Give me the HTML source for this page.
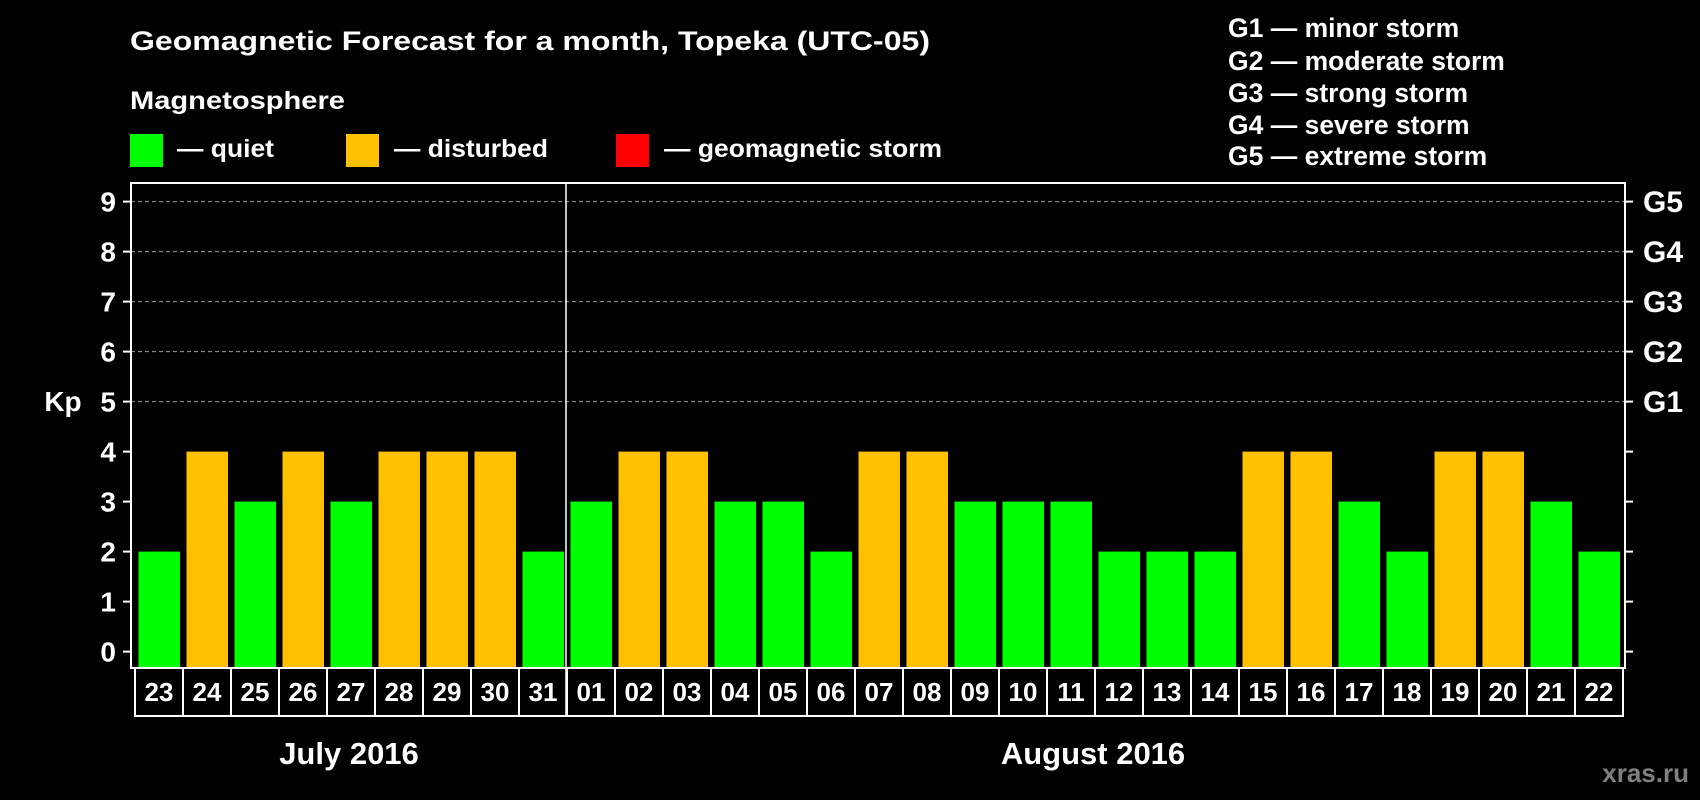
<!DOCTYPE html>
<html><head><meta charset="utf-8"><style>
html,body{margin:0;padding:0;background:#000;}
svg{display:block;font-family:"Liberation Sans",Arial,sans-serif;font-weight:bold;}
</style></head><body>
<svg id="chart" width="1700" height="800" viewBox="0 0 1700 800">
<rect x="0" y="0" width="1700" height="800" fill="#000"/>
<text x="130" y="50" fill="#fff" font-size="27" textLength="800" lengthAdjust="spacingAndGlyphs">Geomagnetic Forecast for a month, Topeka (UTC-05)</text>
<text x="130" y="109" fill="#fff" font-size="25" textLength="215" lengthAdjust="spacingAndGlyphs">Magnetosphere</text>
<g>
<rect x="130" y="134" width="33" height="33" fill="#00ff00"/>
<text x="177" y="157" fill="#fff" font-size="25" textLength="97" lengthAdjust="spacingAndGlyphs">— quiet</text></g>
<g>
<rect x="346" y="134" width="33" height="33" fill="#ffc000"/>
<text x="394" y="157" fill="#fff" font-size="25" textLength="154" lengthAdjust="spacingAndGlyphs">— disturbed</text></g>
<g>
<rect x="616" y="134" width="33" height="33" fill="#ff0000"/>
<text x="664" y="157" fill="#fff" font-size="25" textLength="278" lengthAdjust="spacingAndGlyphs">— geomagnetic storm</text></g>
<g fill="#fff" font-size="26.5">
<text x="1228" y="37">G1 — minor storm</text>
<text x="1228" y="70">G2 — moderate storm</text>
<text x="1228" y="102">G3 — strong storm</text>
<text x="1228" y="134">G4 — severe storm</text>
<text x="1228" y="165">G5 — extreme storm</text>
</g>
<g id="grid"></g>
<g id="bars"></g>
<rect x="131" y="183" width="1494" height="485" fill="none" stroke="#fff" stroke-width="2"/>
<line x1="566" y1="183" x2="566" y2="716" stroke="#fff" stroke-width="1.5"/>
<g id="axes"></g>
<text x="63" y="411" fill="#fff" font-size="28" text-anchor="middle">Kp</text>
<text x="349" y="764" fill="#fff" font-size="31" text-anchor="middle">July 2016</text>
<text x="1093" y="764" fill="#fff" font-size="31" text-anchor="middle">August 2016</text>
<text x="1689" y="782" fill="#808080" font-size="26" text-anchor="end">xras.ru</text>
</svg>
<script>
const days = ["23","24","25","26","27","28","29","30","31","01","02","03","04","05","06","07","08","09","10","11","12","13","14","15","16","17","18","19","20","21","22"];
const kpValues = [2,4,3,4,3,4,4,4,2,3,4,4,3,3,2,4,4,3,3,3,2,2,2,4,4,3,2,4,4,3,2];
const yTicks = [0,1,2,3,4,5,6,7,8,9];
const gLabels = ["G1","G2","G3","G4","G5"];
const gLevels = [5,6,7,8,9];

const NS = "http://www.w3.org/2000/svg";
const plotL = 131, plotR = 1625, plotB = 668, slot0 = 135, slotW = 48;
function yScale(k){ return 651.6 - 50*k; }
function xScale(i){ return slot0 + slotW*i; }
function mk(tag, attrs, parent){ const e = document.createElementNS(NS, tag); for (const k in attrs) e.setAttribute(k, attrs[k]); parent.appendChild(e); return e; }

const grid = document.getElementById('grid'), bars = document.getElementById('bars'), axes = document.getElementById('axes');
gLevels.forEach(function(v){
  const l = mk('line', {x1: plotL, x2: plotR, y1: yScale(v), y2: yScale(v), stroke: '#999', 'stroke-width': 1, 'stroke-dasharray': '4,3'}, grid);
  
  
});
yTicks.forEach(function(v){
  const y = yScale(v);
  const t1 = mk('line', {x1: 123, x2: plotL, y1: y, y2: y, stroke: '#fff', 'stroke-width': 2}, axes);
  
  
  const t2 = mk('line', {x1: plotR, x2: 1633, y1: y, y2: y, stroke: '#fff', 'stroke-width': 2}, axes);
  
  
  const tx = mk('text', {x: 116, y: y + 10, fill: '#fff', 'font-size': 28, 'text-anchor': 'end'}, axes);
  tx.textContent = v;
  
  
});
gLabels.forEach(function(g, i){
  const tx = mk('text', {x: 1643, y: yScale(gLevels[i]) + 10.5, fill: '#fff', 'font-size': 30}, axes);
  tx.textContent = g;
  
  
});
kpValues.forEach(function(v, i){
  const x = xScale(i);
  const r = mk('rect', {x: x + 3.5, y: yScale(v), width: 41.5, height: plotB - yScale(v), fill: v >= 5 ? '#ff0000' : (v >= 4 ? '#ffc000' : '#00ff00')}, bars);
  
  
  const b = mk('rect', {x: x, y: plotB, width: slotW, height: 48, fill: 'none', stroke: '#fff', 'stroke-width': 2}, axes);
  
  
  const t = mk('text', {x: x + slotW/2, y: plotB + 33, fill: '#fff', 'font-size': 26, 'text-anchor': 'middle'}, axes);
  t.textContent = days[i];
  
  
});
</script>
</body></html>
